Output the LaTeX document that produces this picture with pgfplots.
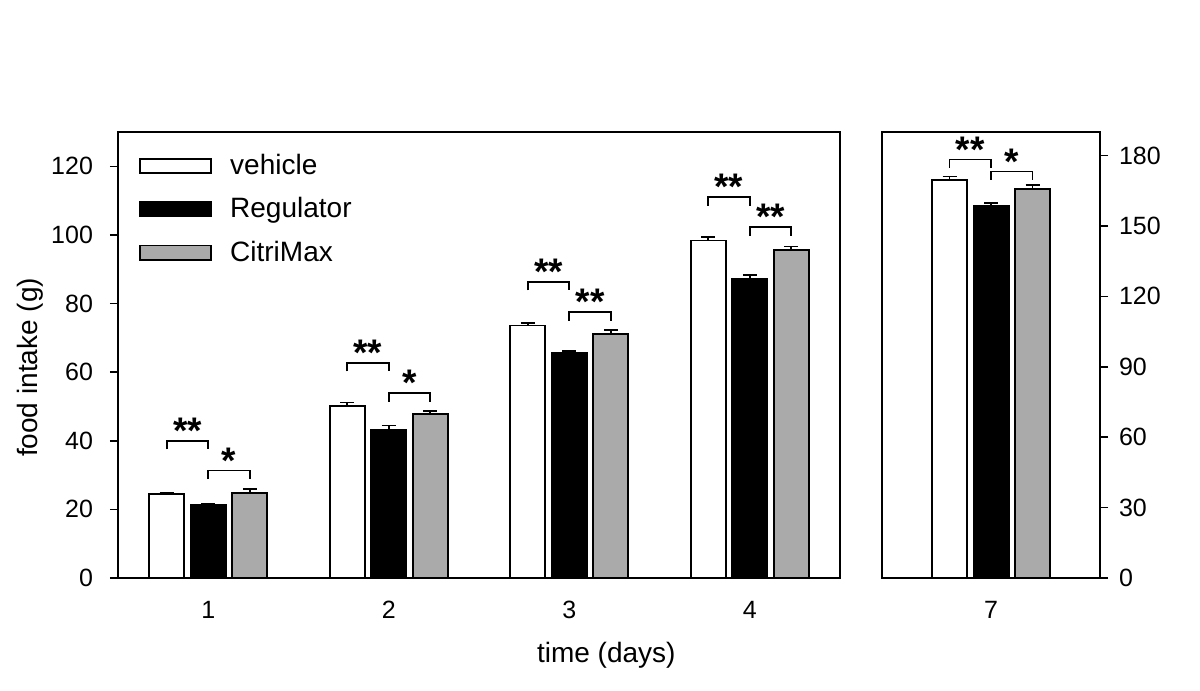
\documentclass[border=0pt]{standalone}
\usepackage{pgfplots}
\pgfplotsset{compat=1.18}
\usepackage{fontspec}
\setmainfont{Liberation Sans}
\definecolor{cgray}{RGB}{170,170,170}
\tikzset{sigstar/.style={anchor=base, yshift=-1.4pt, font=\fontsize{18.5}{18.5}\selectfont\bfseries}}
\pgfplotsset{
  barleg/.style={legend image code/.code={\draw[##1, line width=0.9pt] (0pt,-3.6pt) rectangle (35.5pt,3.6pt);}},
  common/.style={
    scale only axis, height=223pt,
    ymin=0,
    ybar, bar width=0.195,
    tick align=outside, major tick length=4pt,
    xtick style={draw=none},
    tick style={line width=0.8pt, black},
    axis line style={line width=0.8pt},
    /pgf/number format/assume math mode=true,
    ticklabel style={font=\fontsize{12.5}{14}\selectfont},
    xticklabel style={yshift=-4pt},
    error bars/error bar style={line width=0.8pt, black},
    error bars/error mark options={rotate=90, mark size=3.5pt, line width=0.8pt, black},
  },
  vstyle/.style={fill=white, draw=black, line width=0.9pt, bar shift=-0.23},
  rstyle/.style={fill=black, draw=black, line width=0.9pt, bar shift=0},
  cstyle/.style={fill=cgray, draw=black, line width=0.9pt, bar shift=0.23},
}
\begin{document}
\begin{tikzpicture}
\useasboundingbox (0,0) rectangle (600pt,345.5pt);
\begin{axis}[common,
  at={(59pt,56.5pt)}, anchor=south west, width=361pt,
  xmin=0.5, xmax=4.5, ymax=130,
  xtick={1,2,3,4}, ytick={0,20,...,120},
  ytick pos=left,
  yticklabel style={xshift=-5pt},
  legend style={at={(axis description cs:0,1)}, anchor=north west,
    xshift=7.5pt, yshift=-7pt, draw=none, fill=none,
    font=\fontsize{14}{16}\selectfont, row sep=6pt,
    /tikz/every odd column/.append style={column sep=7pt}},
  legend cell align=left,
]
\addplot[vstyle, barleg, error bars/.cd, y dir=plus, y explicit]
  coordinates {(1,24.5) +- (0,0.4) (2,50.2) +- (0,1.0) (3,73.6) +- (0,0.7) (4,98.4) +- (0,1.0)};
\addplot[rstyle, barleg, error bars/.cd, y dir=plus, y explicit]
  coordinates {(1,21.3) +- (0,0.4) (2,43.2) +- (0,1.2) (3,65.5) +- (0,0.7) (4,87.2) +- (0,1.1)};
\addplot[cstyle, barleg, error bars/.cd, y dir=plus, y explicit]
  coordinates {(1,24.8) +- (0,1.1) (2,47.7) +- (0,0.9) (3,71.1) +- (0,1.1) (4,95.6) +- (0,1.0)};
\legend{vehicle, Regulator, CitriMax}
% significance brackets
\foreach \d/\ya/\yb in {1/40/31.3, 2/62.7/53.9, 3/86.3/77.5, 4/111/102.3} {
  \edef\tmp{\noexpand\draw[line width=0.8pt] (axis cs:\d-0.23,\ya-2.5) |- (axis cs:\d,\ya) -- (axis cs:\d,\ya-2.5);
    \noexpand\draw[line width=0.8pt] (axis cs:\d,\yb-2.5) |- (axis cs:\d+0.23,\yb) -- (axis cs:\d+0.23,\yb-2.5);}
  \tmp
}
\node[sigstar] at (axis cs:0.885,40) {**};
\node[sigstar] at (axis cs:1.115,31.3) {*};
\node[sigstar] at (axis cs:1.885,62.7) {**};
\node[sigstar] at (axis cs:2.115,53.9) {*};
\node[sigstar] at (axis cs:2.885,86.3) {**};
\node[sigstar] at (axis cs:3.115,77.5) {**};
\node[sigstar] at (axis cs:3.885,111) {**};
\node[sigstar] at (axis cs:4.115,102.3) {**};
\end{axis}
\begin{axis}[common,
  at={(441pt,56.5pt)}, anchor=south west, width=109pt,
  xmin=6.396, xmax=7.604, ymax=190,
  xtick={7}, ytick={0,30,...,180},
  ytick pos=right, yticklabel pos=right,
  yticklabel style={xshift=2pt},
]
\addplot[vstyle, error bars/.cd, y dir=plus, y explicit]
  coordinates {(7,169.4) +- (0,1.7)};
\addplot[rstyle, error bars/.cd, y dir=plus, y explicit]
  coordinates {(7,158.4) +- (0,1.3)};
\addplot[cstyle, error bars/.cd, y dir=plus, y explicit]
  coordinates {(7,165.8) +- (0,1.6)};
\draw[line width=0.8pt] (axis cs:6.77,174.7) |- (axis cs:7,178.2) -- (axis cs:7,174.7);
\draw[line width=0.8pt] (axis cs:7,169.7) |- (axis cs:7.23,173.2) -- (axis cs:7.23,169.7);
\node[sigstar] at (axis cs:6.885,178.2) {**};
\node[sigstar] at (axis cs:7.115,173.2) {*};
\end{axis}
\node[anchor=base west, font=\fontsize{14}{16}\selectfont] at (265pt,14pt) {time (days)};
\node[anchor=base west, rotate=90, font=\fontsize{14}{16}\selectfont] at (18.5pt,113.5pt) {food intake (g)};
\end{tikzpicture}
\end{document}
